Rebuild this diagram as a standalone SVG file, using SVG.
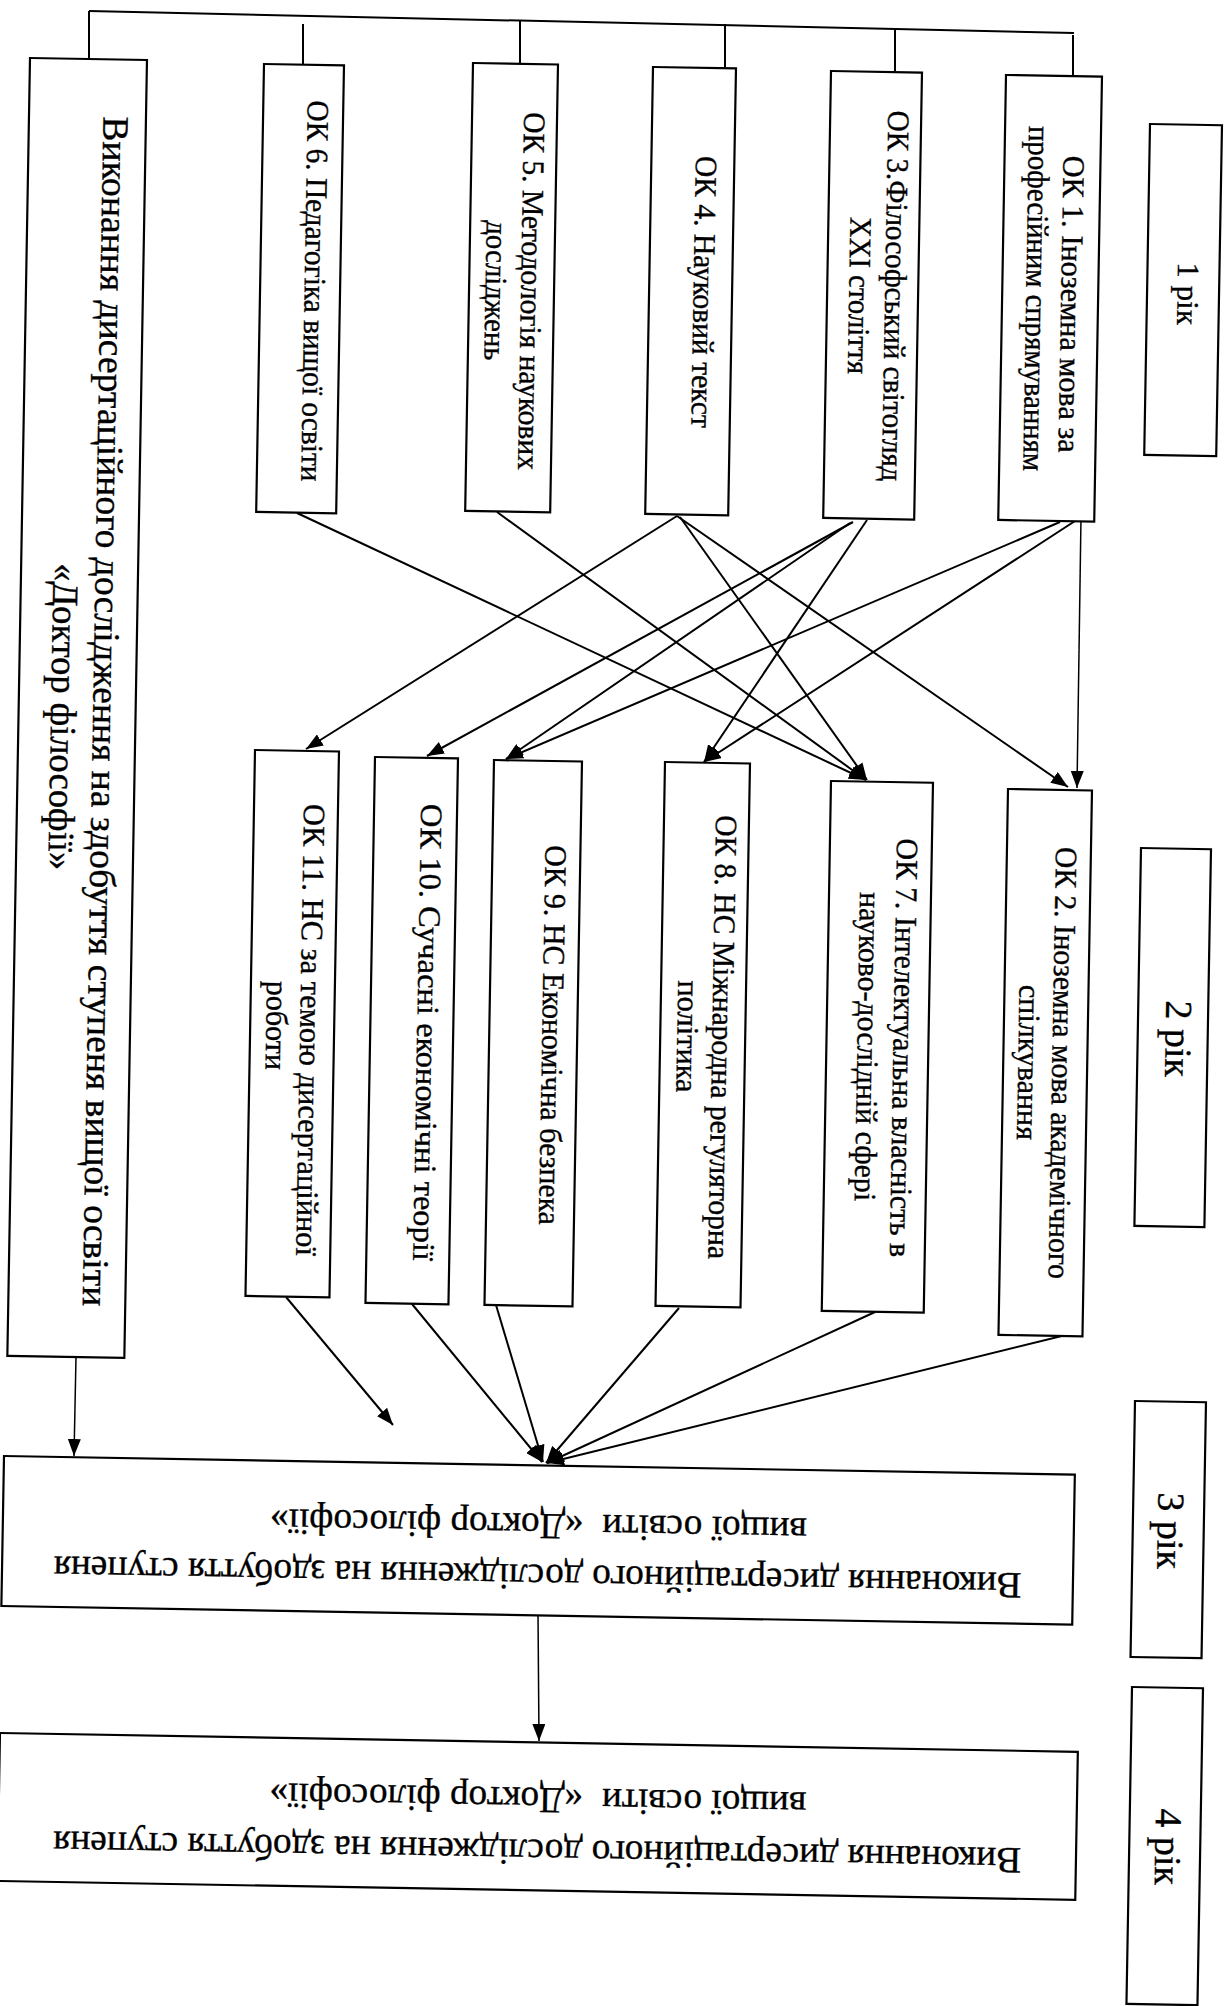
<svg xmlns="http://www.w3.org/2000/svg" width="1229" height="2006" viewBox="0 0 1229 2006">
<style>
.box{fill:#fff;stroke:#000;stroke-width:2.2}
.t{font-family:"Liberation Serif","Times New Roman",serif;font-size:31px;fill:#000;stroke:#000;stroke-width:0.35}
.big{font-size:37px}
.yr{font-size:38px}
.c{stroke:#000;stroke-width:2;fill:none}
.thin{stroke-width:1.5}
</style>
<defs>
<marker id="ah" markerUnits="userSpaceOnUse" markerWidth="18" markerHeight="13" refX="17" refY="6.5" orient="auto">
<path d="M0,0 L17,6.5 L0,13 z" fill="#000"/>
</marker>
</defs>
<rect width="1229" height="2006" fill="#fff"/>

<g id="connectors">
<path class="c" d="M89,11 L1074,33"/>
<path class="c" d="M89,11 L89,58 M303,24 L303,64 M520,21 L520,63 M725,24 L725,67 M895,30 L895,71 M1073,35 L1073,75"/>
<g marker-end="url(#ah)">
<path class="c" d="M297,513 L866,780"/>
<path class="c" d="M497,512 L866,780"/>
<path class="c" d="M680,517 L867,780"/>
<path class="c" d="M677,516 L306,749"/>
<path class="c" d="M677,516 L1068,787"/>
<path class="c" d="M853,522 L427,756"/>
<path class="c" d="M850,523 L506,759"/>
<path class="c" d="M867,520 L704,762"/>
<path class="c" d="M1060,522 L506,759"/>
<path class="c" d="M1075,521 L704,762"/>
<path class="c thin" d="M1081,517 L1077,788"/>
<path class="c" d="M286,1297 L393,1425"/>
<path class="c" d="M412,1304 L542,1462"/>
<path class="c" d="M496,1305 L543,1462"/>
<path class="c" d="M679,1308 L546,1463"/>
<path class="c" d="M875,1312 L547,1463"/>
<path class="c" d="M1070,1334 L547,1463"/>
<path class="c thin" d="M76,1357 L74,1456"/>
<path class="c thin" d="M538,1614 L539,1741"/>
</g>
</g>

<g id="dissertation-main" transform="translate(30,58) rotate(1)">
<rect class="box" width="117" height="1298"/>
<text class="t big" transform="translate(87,652) rotate(90)" text-anchor="middle" dominant-baseline="central" textLength="1190" lengthAdjust="spacingAndGlyphs">Виконання дисертаційного дослідження на здобуття ступеня вищої освіти</text>
<text class="t big" transform="translate(45,658) rotate(90)" text-anchor="middle" dominant-baseline="central" textLength="307" lengthAdjust="spacingAndGlyphs">«Доктор філософії»</text>
</g>

<g id="ok6" transform="translate(264,64) rotate(1)">
<rect class="box" width="80" height="448"/>
<text class="t" transform="translate(55,226) rotate(90)" text-anchor="middle" dominant-baseline="central" textLength="381" lengthAdjust="spacingAndGlyphs">ОК 6. Педагогіка вищої освіти</text>
</g>

<g id="ok5" transform="translate(473,63) rotate(1)">
<rect class="box" width="85" height="448"/>
<text class="t" transform="translate(62.5,227) rotate(90)" text-anchor="middle" dominant-baseline="central" textLength="358" lengthAdjust="spacingAndGlyphs">ОК 5. Методологія наукових</text>
<text class="t" transform="translate(27,227) rotate(90)" text-anchor="middle" dominant-baseline="central" textLength="140" lengthAdjust="spacingAndGlyphs">досліджень</text>
</g>

<g id="ok4" transform="translate(653,67) rotate(1)">
<rect class="box" width="83" height="447"/>
<text class="t" transform="translate(55,224) rotate(90)" text-anchor="middle" dominant-baseline="central" textLength="272" lengthAdjust="spacingAndGlyphs">ОК 4. Науковий текст</text>
</g>

<g id="ok3" transform="translate(831,71) rotate(1)">
<rect class="box" width="91" height="447"/>
<text class="t" transform="translate(68.5,224) rotate(90)" text-anchor="middle" dominant-baseline="central" textLength="371" lengthAdjust="spacingAndGlyphs">ОК 3.Філософський світогляд</text>
<text class="t" transform="translate(32.5,224) rotate(90)" text-anchor="middle" dominant-baseline="central" textLength="157" lengthAdjust="spacingAndGlyphs">XXI століття</text>
</g>

<g id="ok1" transform="translate(1006,75) rotate(1)">
<rect class="box" width="96" height="445"/>
<text class="t" transform="translate(69.5,228) rotate(90)" text-anchor="middle" dominant-baseline="central" textLength="297" lengthAdjust="spacingAndGlyphs">ОК 1. Іноземна мова за</text>
<text class="t" transform="translate(34.5,223) rotate(90)" text-anchor="middle" dominant-baseline="central" textLength="345" lengthAdjust="spacingAndGlyphs">професійним спрямуванням</text>
</g>

<g id="year1" transform="translate(1150,124) rotate(1)">
<rect class="box" width="72" height="331"/>
<text class="t" style="font-size:31px" transform="translate(41,169) rotate(90)" text-anchor="middle" dominant-baseline="central">1 рік</text>
</g>

<g id="ok11" transform="translate(255,750) rotate(1)">
<rect class="box" width="84" height="546"/>
<text class="t" transform="translate(60.5,279) rotate(90)" text-anchor="middle" dominant-baseline="central" textLength="452" lengthAdjust="spacingAndGlyphs">ОК 11. НС за темою дисертаційної</text>
<text class="t" transform="translate(26.5,275) rotate(90)" text-anchor="middle" dominant-baseline="central" textLength="89" lengthAdjust="spacingAndGlyphs">роботи</text>
</g>

<g id="ok10" transform="translate(375,757) rotate(1)">
<rect class="box" width="83" height="546"/>
<text class="t" transform="translate(57.5,274.5) rotate(90)" text-anchor="middle" dominant-baseline="central" textLength="457" lengthAdjust="spacingAndGlyphs">ОК 10. Сучасні економічні теорії</text>
</g>

<g id="ok9" transform="translate(494,760) rotate(1)">
<rect class="box" width="88" height="545"/>
<text class="t" transform="translate(63.5,274) rotate(90)" text-anchor="middle" dominant-baseline="central" textLength="380" lengthAdjust="spacingAndGlyphs">ОК 9. НС Економічна безпека</text>
</g>

<g id="ok8" transform="translate(665,762) rotate(1)">
<rect class="box" width="85" height="544"/>
<text class="t" transform="translate(62.5,274) rotate(90)" text-anchor="middle" dominant-baseline="central" textLength="444" lengthAdjust="spacingAndGlyphs">ОК 8. НС Міжнародна регуляторна</text>
<text class="t" transform="translate(27.5,274) rotate(90)" text-anchor="middle" dominant-baseline="central" textLength="112" lengthAdjust="spacingAndGlyphs">політика</text>
</g>

<g id="ok7" transform="translate(831,781) rotate(1)">
<rect class="box" width="102" height="530"/>
<text class="t" transform="translate(77.5,265.5) rotate(90)" text-anchor="middle" dominant-baseline="central" textLength="419" lengthAdjust="spacingAndGlyphs">ОК 7. Інтелектуальна власність в</text>
<text class="t" transform="translate(41.5,265) rotate(90)" text-anchor="middle" dominant-baseline="central" textLength="309" lengthAdjust="spacingAndGlyphs">науково-дослідній сфері</text>
</g>

<g id="ok2" transform="translate(1008,789) rotate(1)">
<rect class="box" width="84" height="546"/>
<text class="t" transform="translate(59.5,273) rotate(90)" text-anchor="middle" dominant-baseline="central" textLength="432" lengthAdjust="spacingAndGlyphs">ОК 2. Іноземна мова академічного</text>
<text class="t" transform="translate(25.5,273) rotate(90)" text-anchor="middle" dominant-baseline="central" textLength="155" lengthAdjust="spacingAndGlyphs">спілкування</text>
</g>

<g id="year2" transform="translate(1141,848) rotate(1)">
<rect class="box" width="70" height="378"/>
<text class="t yr" transform="translate(41,190) rotate(90)" text-anchor="middle" dominant-baseline="central">2 рік</text>
</g>

<g id="year3" transform="translate(1135,1401) rotate(1)">
<rect class="box" width="71" height="256"/>
<text class="t yr" transform="translate(38,129) rotate(90)" text-anchor="middle" dominant-baseline="central">3 рік</text>
</g>

<g id="year4" transform="translate(1132,1687) rotate(1)">
<rect class="box" width="71" height="317"/>
<text class="t yr" transform="translate(39,159) rotate(90)" text-anchor="middle" dominant-baseline="central">4 рік</text>
</g>

<g id="dissertation-year3" transform="translate(4,1456) rotate(1)">
<rect class="box" width="1071" height="150"/>
<g transform="rotate(180 535.5 75)">
<text class="t big" x="535.5" y="38" text-anchor="middle" dominant-baseline="central" textLength="968" lengthAdjust="spacingAndGlyphs">Виконання дисертаційного дослідження на здобуття ступеня</text>
<text class="t big" x="535.5" y="89" text-anchor="middle" dominant-baseline="central" textLength="537" lengthAdjust="spacingAndGlyphs" xml:space="preserve">вищої освіти  «Доктор філософії»</text>
</g>
</g>

<g id="dissertation-year4" transform="translate(0,1733) rotate(1)">
<rect class="box" width="1078" height="148"/>
<g transform="rotate(180 539 74)">
<text class="t big" x="539" y="38" text-anchor="middle" dominant-baseline="central" textLength="968" lengthAdjust="spacingAndGlyphs">Виконання дисертаційного дослідження на здобуття ступеня</text>
<text class="t big" x="539" y="90" text-anchor="middle" dominant-baseline="central" textLength="537" lengthAdjust="spacingAndGlyphs" xml:space="preserve">вищої освіти  «Доктор філософії»</text>
</g>
</g>
</svg>
